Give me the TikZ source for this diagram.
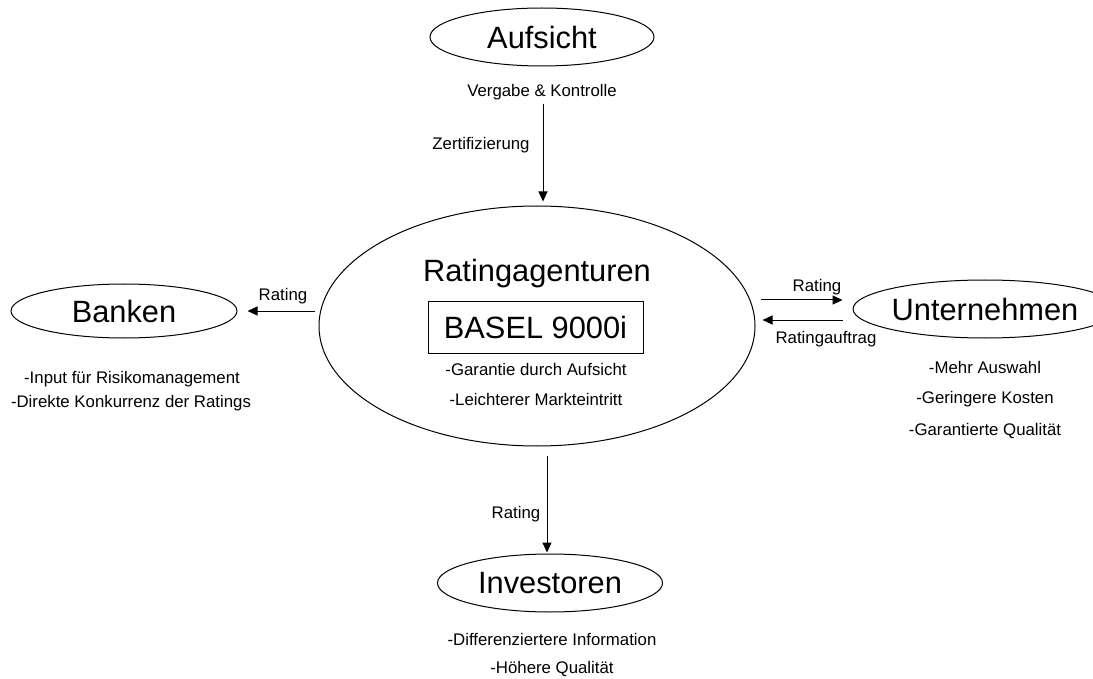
\documentclass[tikz,border=0pt]{standalone}
\usepackage{fontspec}
\setmainfont{Liberation Sans}
\usetikzlibrary{positioning,shapes.geometric,arrows.meta}
\tikzset{
      stelle/.style={ellipse,draw,line width=1pt,inner sep=0pt,font=\fontsize{30.8}{36}\selectfont},
      gross/.style={inner sep=0pt,font=\fontsize{30.8}{36}\selectfont},
      notiz/.style={inner sep=0pt,anchor=base,font=\fontsize{16.8}{20}\selectfont},
      pfeil/.style={line width=1pt,-{Triangle[length=10pt,width=9pt]}}
    }

\begin{document}
\begin{tikzpicture}[x=1pt,y=-1pt]
\useasboundingbox (0,0) rectangle (1093,679);
% Aufsicht
\node[stelle,minimum width=224pt,minimum height=58pt](aufsicht) at (542,37){Aufsicht};
\node[notiz](vergabe) at (542,97){Vergabe \& Kontrolle};
% Ratingagenturen
\node[stelle,minimum width=436pt,minimum height=240pt](agentur) at (537,326){};
\node[gross,anchor=base](agtitel) at (537,282){Ratingagenturen};
\node[gross,draw,line width=1pt,minimum width=215pt,minimum height=51pt](basel) at (535.5,327.5){BASEL 9000i};
\node[notiz](garantie) at (536,375){-Garantie durch Aufsicht};
\node[notiz](eintritt) at (536,405){-Leichterer Markteintritt};
% Banken
\node[stelle,minimum width=226pt,minimum height=54pt](banken) at (124,311){Banken};
\node[notiz](input) at (132,383){-Input f\"ur Risikomanagement};
\node[notiz](konkurrenz) at (131,407){-Direkte Konkurrenz der Ratings};
% Unternehmen
\node[stelle,minimum width=216pt,minimum height=58pt](unternehmen) at (985,309){Unternehmen};
\node[notiz](auswahl) at (985,373){-Mehr Auswahl};
\node[notiz](kosten) at (985,403){-Geringere Kosten};
\node[notiz](qualitaet) at (985,435){-Garantierte Qualit\"at};
% Investoren
\node[stelle,minimum width=225pt,minimum height=58pt](investoren) at (550,583){Investoren};
\node[notiz](information) at (552,645){-Differenziertere Information};
\node[notiz](hoeher) at (552,673){-H\"ohere Qualit\"at};

% Verbindungen
\draw[pfeil] ([shift={(1pt,-3pt)}]vergabe.south) -- ([shift={(6pt,4pt)}]agentur.north);
\node[notiz](zert) at (481,150){Zertifizierung};

\draw[pfeil] ([xshift=-4pt]agentur.west |- banken.east) -- ([xshift=10pt]banken.east);
\node[notiz](rbanken) at (283,301){Rating};

\path (unternehmen.west) ++(-10pt,9pt) coordinate (u1) ++(0,-20pt) coordinate (u2);
\path (agentur.east |- u1) ++(5pt,0) coordinate (r1);
\path (agentur.east |- u2) ++(7pt,0) coordinate (r2);
\draw[pfeil] (r1) -- (u1);
\draw[pfeil] (u2) -- (r2);
\node[notiz](runternehmen) at (817,292){Rating};
\node[notiz](auftrag) at (826,343){Ratingauftrag};

\draw[pfeil] ([shift={(10pt,-9pt)}]agentur.south) -- ([shift={(-3pt,1pt)}]investoren.north);
\node[notiz](rinvestoren) at (516,518){Rating};
\end{tikzpicture}
\end{document}
